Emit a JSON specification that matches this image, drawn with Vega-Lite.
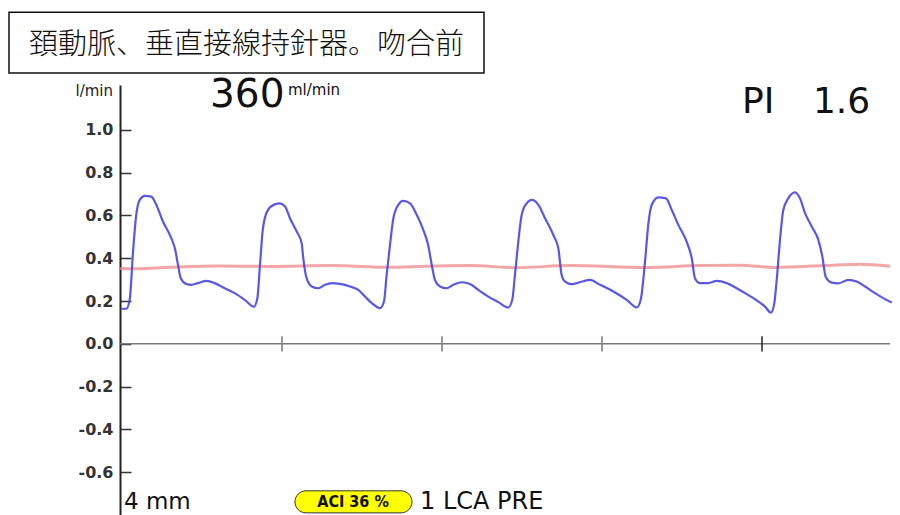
{
  "$schema": "https://vega.github.io/schema/vega-lite/v6.json",
  "width": 770,
  "height": 430,
  "autosize": {"type": "none"},
  "padding": {"left": 120, "top": 85, "right": 10, "bottom": 0},
  "background": "white",
  "config": {
    "view": {"stroke": null},
    "axisY": {
      "grid": false,
      "domainColor": "#222",
      "domainWidth": 2,
      "tickColor": "#333",
      "tickWidth": 1.5,
      "tickSize": -11,
      "labelPadding": 18,
      "labelFont": "DejaVu Sans",
      "labelFontSize": 16,
      "labelFontWeight": "bold",
      "labelColor": "#333"
    }
  },
  "datasets": {
    "flow": [
      {"t": -0.004, "flow": 0.164}, {"t": 0.027, "flow": 0.164}, {"t": 0.048, "flow": 0.206}, {"t": 0.069, "flow": 0.431},
      {"t": 0.089, "flow": 0.603}, {"t": 0.111, "flow": 0.673}, {"t": 0.142, "flow": 0.692}, {"t": 0.183, "flow": 0.688},
      {"t": 0.214, "flow": 0.65}, {"t": 0.256, "flow": 0.572}, {"t": 0.308, "flow": 0.494}, {"t": 0.333, "flow": 0.439},
      {"t": 0.35, "flow": 0.369}, {"t": 0.367, "flow": 0.307}, {"t": 0.402, "flow": 0.28}, {"t": 0.433, "flow": 0.276},
      {"t": 0.475, "flow": 0.284}, {"t": 0.527, "flow": 0.294}, {"t": 0.579, "flow": 0.284}, {"t": 0.642, "flow": 0.26},
      {"t": 0.704, "flow": 0.237}, {"t": 0.767, "flow": 0.206}, {"t": 0.825, "flow": 0.174}, {"t": 0.846, "flow": 0.213},
      {"t": 0.861, "flow": 0.354}, {"t": 0.881, "flow": 0.541}, {"t": 0.9125, "flow": 0.626}, {"t": 0.954, "flow": 0.652},
      {"t": 0.9875, "flow": 0.657}, {"t": 1.019, "flow": 0.642}, {"t": 1.05, "flow": 0.587}, {"t": 1.092, "flow": 0.525},
      {"t": 1.123, "flow": 0.47}, {"t": 1.133, "flow": 0.4}, {"t": 1.154, "flow": 0.307}, {"t": 1.186, "flow": 0.268},
      {"t": 1.227, "flow": 0.26}, {"t": 1.269, "flow": 0.276}, {"t": 1.311, "flow": 0.284}, {"t": 1.3625, "flow": 0.28},
      {"t": 1.425, "flow": 0.268}, {"t": 1.477, "flow": 0.252}, {"t": 1.519, "flow": 0.221}, {"t": 1.561, "flow": 0.19},
      {"t": 1.6125, "flow": 0.167}, {"t": 1.6375, "flow": 0.198}, {"t": 1.654, "flow": 0.322}, {"t": 1.675, "flow": 0.463},
      {"t": 1.696, "flow": 0.587}, {"t": 1.727, "flow": 0.65}, {"t": 1.758, "flow": 0.668}, {"t": 1.8, "flow": 0.657},
      {"t": 1.842, "flow": 0.603}, {"t": 1.883, "flow": 0.533}, {"t": 1.914, "flow": 0.46}, {"t": 1.936, "flow": 0.369},
      {"t": 1.956, "flow": 0.299}, {"t": 1.9875, "flow": 0.268}, {"t": 2.029, "flow": 0.26}, {"t": 2.071, "flow": 0.276},
      {"t": 2.123, "flow": 0.288}, {"t": 2.175, "flow": 0.28}, {"t": 2.227, "flow": 0.252}, {"t": 2.289, "flow": 0.221},
      {"t": 2.352, "flow": 0.195}, {"t": 2.414, "flow": 0.17}, {"t": 2.439, "flow": 0.206}, {"t": 2.456, "flow": 0.322},
      {"t": 2.477, "flow": 0.478}, {"t": 2.498, "flow": 0.603}, {"t": 2.529, "flow": 0.657}, {"t": 2.561, "flow": 0.673},
      {"t": 2.602, "flow": 0.65}, {"t": 2.644, "flow": 0.587}, {"t": 2.696, "flow": 0.509}, {"t": 2.727, "flow": 0.447},
      {"t": 2.748, "flow": 0.322}, {"t": 2.769, "flow": 0.291}, {"t": 2.811, "flow": 0.279}, {"t": 2.8625, "flow": 0.288},
      {"t": 2.925, "flow": 0.299}, {"t": 2.9875, "flow": 0.276}, {"t": 3.071, "flow": 0.245}, {"t": 3.154, "flow": 0.206},
      {"t": 3.217, "flow": 0.17}, {"t": 3.242, "flow": 0.206}, {"t": 3.269, "flow": 0.385}, {"t": 3.289, "flow": 0.556},
      {"t": 3.311, "flow": 0.65}, {"t": 3.352, "flow": 0.685}, {"t": 3.4, "flow": 0.68}, {"t": 3.436, "flow": 0.626},
      {"t": 3.477, "flow": 0.556}, {"t": 3.529, "flow": 0.478}, {"t": 3.561, "flow": 0.4}, {"t": 3.581, "flow": 0.307},
      {"t": 3.6125, "flow": 0.284}, {"t": 3.664, "flow": 0.284}, {"t": 3.717, "flow": 0.294}, {"t": 3.779, "flow": 0.284},
      {"t": 3.842, "flow": 0.26}, {"t": 3.894, "flow": 0.237}, {"t": 3.956, "flow": 0.209}, {"t": 4.019, "flow": 0.174},
      {"t": 4.056, "flow": 0.146}, {"t": 4.077, "flow": 0.19}, {"t": 4.092, "flow": 0.299}, {"t": 4.1125, "flow": 0.486},
      {"t": 4.133, "flow": 0.626}, {"t": 4.164, "flow": 0.68}, {"t": 4.206, "flow": 0.708}, {"t": 4.2375, "flow": 0.68},
      {"t": 4.269, "flow": 0.611}, {"t": 4.311, "flow": 0.548}, {"t": 4.352, "flow": 0.486}, {"t": 4.377, "flow": 0.408},
      {"t": 4.398, "flow": 0.314}, {"t": 4.436, "flow": 0.286}, {"t": 4.477, "flow": 0.283}, {"t": 4.539, "flow": 0.299},
      {"t": 4.592, "flow": 0.291}, {"t": 4.644, "flow": 0.268}, {"t": 4.706, "flow": 0.237}, {"t": 4.769, "flow": 0.209},
      {"t": 4.811, "flow": 0.193}
    ],
    "mean": [
      {"t": -0.0125, "mean": 0.352}, {"t": 0.081, "mean": 0.351}, {"t": 0.3, "mean": 0.358}, {"t": 0.6, "mean": 0.364},
      {"t": 0.925, "mean": 0.362}, {"t": 1.3, "mean": 0.366}, {"t": 1.675, "mean": 0.358}, {"t": 1.894, "mean": 0.363},
      {"t": 2.175, "mean": 0.366}, {"t": 2.456, "mean": 0.356}, {"t": 2.8, "mean": 0.366}, {"t": 3.269, "mean": 0.357},
      {"t": 3.6125, "mean": 0.366}, {"t": 3.8625, "mean": 0.368}, {"t": 4.081, "mean": 0.357}, {"t": 4.394, "mean": 0.366},
      {"t": 4.6125, "mean": 0.372}, {"t": 4.8, "mean": 0.363}
    ],
    "seconds": [{"t": 1}, {"t": 2}, {"t": 3}, {"t": 4}]
  },
  "layer": [
    {
      "data": {"values": [{}]},
      "mark": {"type": "rect", "fill": "white", "stroke": "#111", "strokeWidth": 1.5},
      "encoding": {
        "x": {"datum": -0.70625, "type": "quantitative", "scale": {"domain": [-0.0125, 4.8], "nice": false, "zero": false}, "axis": null},
        "x2": {"datum": 2.2625},
        "y": {"datum": 1.55, "type": "quantitative", "scale": {"domain": [-0.8, 1.21], "nice": false, "zero": false}, "axis": {"title": null}},
        "y2": {"datum": 1.266}
      }
    },
    {
      "data": {"values": [{}]},
      "mark": {"type": "text", "text": "頚動脈、垂直接線持針器。吻合前", "font": "Noto Sans CJK JP", "fontSize": 29, "fontWeight": 300, "align": "center", "baseline": "middle", "color": "#111"},
      "encoding": {
        "x": {"datum": 0.778, "type": "quantitative", "axis": null},
        "y": {"datum": 1.395, "type": "quantitative", "axis": {"title": null}}
      }
    },
    {
      "data": {"values": [{}]},
      "mark": {"type": "rule", "color": "#7a7a7a", "strokeWidth": 1.5},
      "encoding": {"y": {"datum": 0, "type": "quantitative", "axis": {"title": null}}}
    },
    {
      "data": {"name": "seconds"},
      "mark": {"type": "rule", "strokeWidth": 1.5},
      "encoding": {
        "x": {"field": "t", "type": "quantitative", "axis": null},
        "y": {"datum": -0.036, "type": "quantitative", "axis": {"title": null}},
        "y2": {"datum": 0.036},
        "color": {"condition": {"test": "datum.t === 4", "value": "#222"}, "value": "#777"}
      }
    },
    {
      "data": {"name": "mean"},
      "mark": {"type": "line", "color": "#ee8080", "strokeWidth": 3, "opacity": 0.7, "interpolate": "monotone"},
      "encoding": {
        "x": {"field": "t", "type": "quantitative", "axis": null},
        "y": {"field": "mean", "type": "quantitative", "axis": {"title": null}}
      }
    },
    {
      "data": {"name": "flow"},
      "mark": {"type": "line", "color": "#4646e2", "strokeWidth": 2.2, "opacity": 0.9, "interpolate": "monotone"},
      "encoding": {
        "x": {"field": "t", "type": "quantitative", "axis": null},
        "y": {
          "field": "flow",
          "type": "quantitative",
          "axis": {
            "values": [-0.6, -0.4, -0.2, 0, 0.2, 0.4, 0.6, 0.8, 1.0],
            "labelExpr": "(datum.value < 0 ? '-' : '') + format(abs(datum.value), '.1f')",
            "title": null
          }
        }
      }
    },
    {
      "data": {"values": [{}]},
      "mark": {"type": "text", "text": "l/min", "font": "DejaVu Sans", "fontSize": 15, "align": "right", "baseline": "alphabetic", "color": "#222"},
      "encoding": {
        "x": {"datum": -0.05625, "type": "quantitative", "axis": null},
        "y": {"datum": 1.159, "type": "quantitative", "axis": {"title": null}}
      }
    },
    {
      "data": {"values": [{}]},
      "mark": {"type": "text", "text": "360", "font": "DejaVu Sans", "fontSize": 39, "align": "left", "baseline": "alphabetic", "color": "#111"},
      "encoding": {
        "x": {"datum": 0.55, "type": "quantitative", "axis": null},
        "y": {"datum": 1.107, "type": "quantitative", "axis": {"title": null}}
      }
    },
    {
      "data": {"values": [{}]},
      "mark": {"type": "text", "text": "ml/min", "font": "DejaVu Sans", "fontSize": 15, "align": "left", "baseline": "alphabetic", "color": "#111"},
      "encoding": {
        "x": {"datum": 1.0375, "type": "quantitative", "axis": null},
        "y": {"datum": 1.163, "type": "quantitative", "axis": {"title": null}}
      }
    },
    {
      "data": {"values": [{}]},
      "mark": {"type": "text", "text": "PI", "font": "DejaVu Sans", "fontSize": 36, "align": "left", "baseline": "alphabetic", "color": "#111"},
      "encoding": {
        "x": {"datum": 3.875, "type": "quantitative", "axis": null},
        "y": {"datum": 1.079, "type": "quantitative", "axis": {"title": null}}
      }
    },
    {
      "data": {"values": [{}]},
      "mark": {"type": "text", "text": "1.6", "font": "DejaVu Sans", "fontSize": 36, "align": "left", "baseline": "alphabetic", "color": "#111"},
      "encoding": {
        "x": {"datum": 4.318, "type": "quantitative", "axis": null},
        "y": {"datum": 1.079, "type": "quantitative", "axis": {"title": null}}
      }
    },
    {
      "data": {"values": [{}]},
      "mark": {"type": "text", "text": "4 mm", "font": "DejaVu Sans", "fontSize": 23, "align": "left", "baseline": "bottom", "color": "#111"},
      "encoding": {
        "x": {"datum": 0.0125, "type": "quantitative", "axis": null},
        "y": {"datum": -0.797, "type": "quantitative", "axis": {"title": null}}
      }
    },
    {
      "data": {"values": [{}]},
      "mark": {"type": "rect", "fill": "#ffff00", "stroke": "#333", "strokeWidth": 1, "cornerRadius": 11},
      "encoding": {
        "x": {"datum": 1.081, "type": "quantitative", "axis": null},
        "x2": {"datum": 1.8125},
        "y": {"datum": -0.687, "type": "quantitative", "axis": {"title": null}},
        "y2": {"datum": -0.79}
      }
    },
    {
      "data": {"values": [{}]},
      "mark": {"type": "text", "text": "ACI 36 %", "font": "Liberation Sans Narrow, DejaVu Sans Condensed, Roboto", "fontSize": 16, "fontWeight": "bold", "align": "center", "baseline": "middle", "color": "#111"},
      "encoding": {
        "x": {"datum": 1.444, "type": "quantitative", "axis": null},
        "y": {"datum": -0.737, "type": "quantitative", "axis": {"title": null}}
      }
    },
    {
      "data": {"values": [{}]},
      "mark": {"type": "text", "text": "1 LCA PRE", "font": "DejaVu Sans", "fontSize": 24, "align": "left", "baseline": "bottom", "color": "#111"},
      "encoding": {
        "x": {"datum": 1.8625, "type": "quantitative", "axis": null},
        "y": {"datum": -0.797, "type": "quantitative", "axis": {"title": null}}
      }
    }
  ]
}
